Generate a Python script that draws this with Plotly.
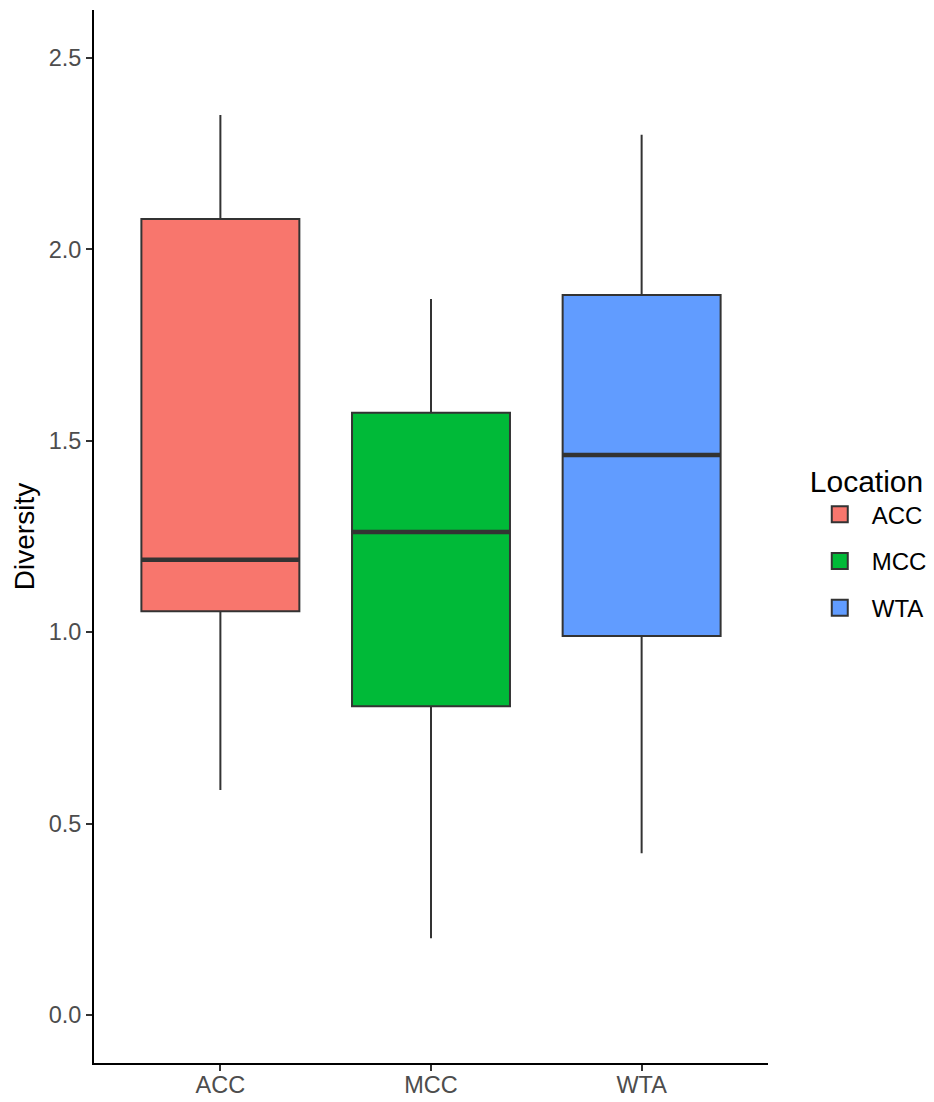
import plotly.graph_objects as go

categories = ["ACC", "MCC", "WTA"]
lower_whisker = [0.588, 0.201, 0.423]
q1 = [1.055, 0.807, 0.990]
median = [1.189, 1.262, 1.463]
q3 = [2.079, 1.573, 1.881]
upper_whisker = [2.351, 1.870, 2.299]
colors = ["#F8766D", "#00BA38", "#619CFF"]
y_ticks = [0.0, 0.5, 1.0, 1.5, 2.0, 2.5]

BOX_W = 0.75
FONT = "Arial, Liberation Sans, sans-serif"

fig = go.Figure()
for i, cat in enumerate(categories):
    fig.add_trace(go.Box(
        x=[i], q1=[q1[i]], median=[median[i]], q3=[q3[i]],
        lowerfence=[lower_whisker[i]], upperfence=[upper_whisker[i]],
        name=cat, width=BOX_W, whiskerwidth=0,
        fillcolor=colors[i], line=dict(color="#333333", width=2),
        boxpoints=False, hoverinfo="skip", showlegend=False,
    ))
for i, cat in enumerate(categories):
    fig.add_trace(go.Scatter(
        x=[i - BOX_W / 2, i + BOX_W / 2], y=[median[i], median[i]],
        mode="lines", line=dict(color="#333333", width=4.5),
        showlegend=False, hoverinfo="skip",
    ))
# legend keys
for i, cat in enumerate(categories):
    fig.add_trace(go.Scatter(
        x=[None], y=[None], mode="markers", name=cat, legendgroup=cat,
        marker=dict(symbol="square", size=16, color=colors[i],
                    line=dict(color="#333333", width=2)),
    ))

fig.update_layout(
    width=926, height=1094,
    margin=dict(l=86, r=164, t=2, b=39),
    plot_bgcolor="white", paper_bgcolor="white",
    font=dict(family=FONT, color="black"),
    boxmode="overlay",
    legend=dict(
        title=dict(text="Location", font=dict(size=30, color="black")),
        font=dict(size=24, color="black"),
        x=1.059, xref="paper", xanchor="left", y=0.495, yanchor="middle",
        tracegroupgap=12.5, itemwidth=54,
    ),
    xaxis=dict(
        range=[-0.6, 2.6], tickvals=list(range(len(categories))), ticktext=categories,
        showline=True, linecolor="black", linewidth=2,
        ticks="outside", ticklen=6, tickwidth=2, tickcolor="#333333",
        tickfont=dict(size=23.5, color="#4D4D4D"), ticklabelstandoff=-6,
        showgrid=False, zeroline=False, automargin=False,
    ),
    yaxis=dict(
        range=[-0.125, 2.625], tickvals=y_ticks, tickformat=".1f",
        showline=True, linecolor="black", linewidth=2,
        ticks="outside", ticklen=6, tickwidth=2, tickcolor="#333333",
        tickfont=dict(size=23.5, color="#4D4D4D"),
        title=dict(text="Diversity", font=dict(size=28, color="black"), standoff=6),
        showgrid=False, zeroline=False, automargin=False,
    ),
)

fig.write_html("out.html")
